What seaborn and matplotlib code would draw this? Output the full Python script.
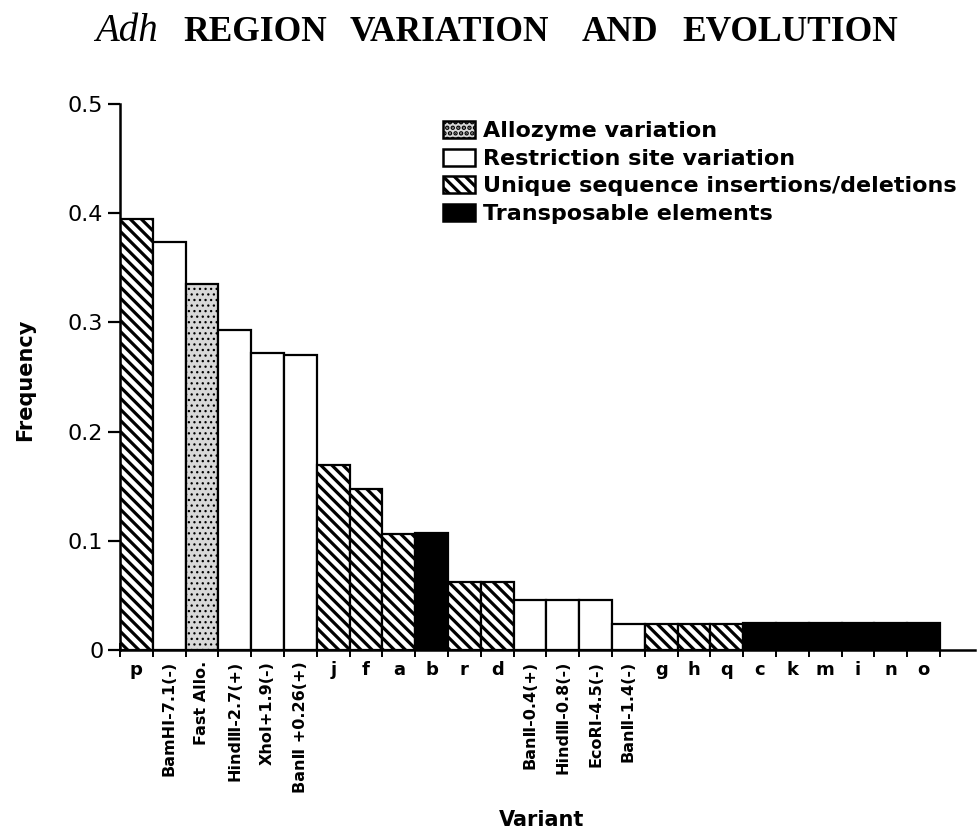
import matplotlib
matplotlib.use("Agg")
import matplotlib.pyplot as plt
import seaborn as sns
import pandas as pd
from matplotlib.patches import Patch

# ---- data -------------------------------------------------------------
variants = ["p", "BamHI-7.1(-)", "Fast Allo.", "Hind\u2162-2.7(+)", "XhoI+1.9(-)",
            "Ban\u2161 +0.26(+)", "j", "f", "a", "b", "r", "d",
            "Ban\u2161-0.4(+)", "Hind\u2162-0.8(-)", "EcoR\u2160-4.5(-)", "Ban\u2161-1.4(-)",
            "g", "h", "q", "c", "k", "m", "i", "n", "o"]
frequency = [0.395, 0.374, 0.335, 0.293, 0.272, 0.270, 0.169, 0.147, 0.106, 0.107,
             0.062, 0.062, 0.046, 0.046, 0.046, 0.024, 0.024, 0.024, 0.024,
             0.025, 0.025, 0.025, 0.025, 0.025, 0.025]
variant_type = ["Unique", "Restriction", "Allozyme", "Restriction", "Restriction",
                "Restriction", "Unique", "Unique", "Unique", "Transposable",
                "Unique", "Unique", "Restriction", "Restriction", "Restriction",
                "Restriction", "Unique", "Unique", "Unique", "Transposable",
                "Transposable", "Transposable", "Transposable", "Transposable",
                "Transposable"]
legend_labels = ["Allozyme variation", "Restriction site variation",
                 "Unique sequence insertions/deletions", "Transposable elements"]
legend_types = ["Allozyme", "Restriction", "Unique", "Transposable"]
title_words = ["REGION", "VARIATION", "AND", "EVOLUTION"]

styles = {
    "Allozyme": dict(facecolor="#d8d8d8", hatch="...", hlw=0.9),
    "Restriction": dict(facecolor="white", hatch=None, hlw=None),
    "Unique": dict(facecolor="white", hatch="\\\\\\", hlw=2.3),
    "Transposable": dict(facecolor="black", hatch=None, hlw=None),
}

df = pd.DataFrame({"variant": variants, "frequency": frequency, "type": variant_type})

# ---- figure -----------------------------------------------------------
sns.set_style("ticks")
plt.rcParams["font.family"] = ["DejaVu Sans"]
plt.rcParams["hatch.linewidth"] = 2.3
plt.rcParams["hatch.color"] = "black"
plt.rcParams["text.color"] = "black"
plt.rcParams["axes.labelcolor"] = "black"
plt.rcParams["xtick.color"] = "black"
plt.rcParams["ytick.color"] = "black"
plt.rcParams["axes.edgecolor"] = "black"


def style_patch(patch, t):
    st = styles[t]
    patch.set_facecolor(st["facecolor"])
    patch.set_edgecolor("black")
    if st["hatch"]:
        patch.set_hatch(st["hatch"])
        if hasattr(patch, "set_hatch_linewidth"):
            patch.set_hatch_linewidth(st["hlw"])


fig = plt.figure(figsize=(9.79, 8.34), dpi=100)
ax = fig.add_axes([120 / 979, (834 - 650) / 834, 855 / 979, 546 / 834])

sns.barplot(data=df, x="variant", y="frequency", order=variants, color="white",
            edgecolor="black", linewidth=1.6, width=1.0, ax=ax, errorbar=None,
            saturation=1)

for patch, t in zip(ax.patches, variant_type):
    style_patch(patch, t)

n = len(variants)
ax.set_xlim(-0.5, -0.5 + 855 / 32.8)
ax.set_ylim(0, 0.5)
sns.despine(ax=ax, top=True, right=True)
for s in ["left", "bottom"]:
    ax.spines[s].set_linewidth(1.8)

ax.set_yticks([0, 0.1, 0.2, 0.3, 0.4, 0.5])
ax.set_yticklabels(["0", "0.1", "0.2", "0.3", "0.4", "0.5"])
ax.tick_params(axis="y", length=9, width=1.6, labelsize=16, pad=3)

ax.set_xticks(range(n))
ax.set_xticklabels(variants)
ax.tick_params(axis="x", which="major", length=0, pad=8, labelsize=12)
ax.set_xticks([i - 0.5 for i in range(n + 1)], minor=True)
ax.tick_params(axis="x", which="minor", length=10, width=1.4, direction="inout")
for lab in ax.get_xticklabels():
    lab.set_fontweight("bold")
    if len(lab.get_text()) > 1:
        lab.set_rotation(90)
        lab.set_va("top")
        lab.set_ha("center")
        lab.set_fontsize(11.5)
    else:
        lab.set_fontsize(13)

ax.set_xlabel("Variant", fontsize=15, fontweight="bold")
ax.xaxis.set_label_coords((542 - 120) / 855, (650 - 810) / 546)
ax.set_ylabel("Frequency", fontsize=15, fontweight="bold")
ax.yaxis.set_label_coords((35 - 120) / 855, (650 - 380) / 546)

handles = []
for t, l in zip(legend_types, legend_labels):
    h = Patch(facecolor="white", edgecolor="black", linewidth=1.8, label=l)
    style_patch(h, t)
    handles.append(h)
ax.legend(handles=handles, loc="upper left",
          bbox_to_anchor=(443 / 979, 1 - 121 / 834), bbox_transform=fig.transFigure,
          frameon=False, prop={"size": 16, "weight": "bold"}, handlelength=1.45,
          handleheight=0.8, handletextpad=0.35, labelspacing=0.33, borderpad=0,
          borderaxespad=0)

# title
fig.text(95 / 979, 1 - 41 / 834, "Adh", family="Liberation Serif", style="italic",
         fontsize=28, va="baseline", ha="left")
word_x = [183, 350, 582, 682]
for w, x in zip(title_words, word_x):
    fig.text(x / 979, 1 - 41 / 834, w, family="Liberation Serif", fontweight="bold",
             fontsize=25.5, va="baseline", ha="left")

fig.savefig("out.png", dpi=100)
